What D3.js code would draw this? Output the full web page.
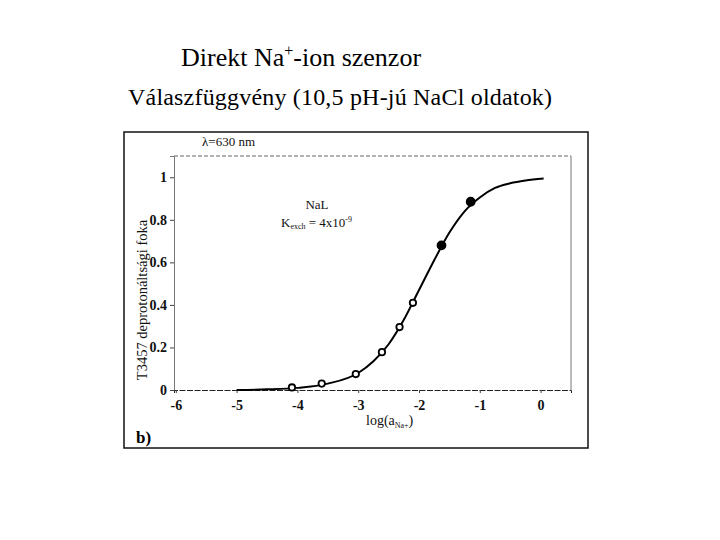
<!DOCTYPE html>
<html>
<head>
<meta charset="utf-8">
<script src="https://cdn.jsdelivr.net/npm/d3@7/dist/d3.min.js"></script>
<style>
    body { margin: 0; background: #fff; }
</style>
</head>
<body>
<svg></svg>
<script>
    // measured points (log a_Na+, degree of deprotonation)
    var pointX = [-4.09, -3.60, -3.04, -2.61, -2.32, -2.10, -1.63, -1.15];
    var pointY = [0.012, 0.030, 0.075, 0.178, 0.296, 0.410, 0.680, 0.885];
    var pointFilled = [false, false, false, false, false, false, true, true];

    // fitted curve
    var curveX = [-5.0, -4.5, -4.0, -3.5, -3.0, -2.75, -2.5, -2.25, -2.0, -1.75, -1.5, -1.25, -1.0, -0.75, -0.5, -0.25, 0.05];
    var curveY = [0.000, 0.003, 0.010, 0.030, 0.080, 0.135, 0.215, 0.330, 0.470, 0.610, 0.740, 0.840, 0.905, 0.950, 0.972, 0.985, 0.994];

    var xTicks = [-6, -5, -4, -3, -2, -1, 0];
    var yTicks = [0, 0.2, 0.4, 0.6, 0.8, 1];

    var serif = "Liberation Serif, Times New Roman, serif";
    var w = 720, h = 540;
    var svg = d3.select("svg").attr("width", w).attr("height", h)
            .attr("font-family", serif);

    // titles
    var t1 = svg.append("text").attr("x", 181).attr("y", 66)
            .attr("font-family", serif)
            .attr("font-size", 26);
    t1.append("tspan").text("Direkt Na");
    t1.append("tspan").text("+").attr("font-size", 16).attr("dy", -10);
    t1.append("tspan").text("-ion szenzor").attr("dy", 10);

    svg.append("text").attr("x", 128).attr("y", 105)
            .attr("font-family", serif)
            .attr("font-size", 24)
            .attr("textLength", 424)
            .text("Válaszfüggvény (10,5 pH-jú NaCl oldatok)");

    // outer frame
    svg.append("rect")
            .attr("x", 124).attr("y", 132)
            .attr("width", 464).attr("height", 316)
            .attr("fill", "none")
            .attr("stroke", "#111")
            .attr("stroke-width", 1.5);

    var x = d3.scaleLinear().domain([-6.03, 0.5]).range([174, 571]);
    var y = d3.scaleLinear().domain([0, 1.1]).range([390, 156]);

    // plot area box
    svg.append("line")
            .attr("x1", x(-6.03)).attr("x2", x(0.5))
            .attr("y1", y(1.1)).attr("y2", y(1.1))
            .attr("stroke", "#666").attr("stroke-dasharray", "4,2");
    svg.append("line")
            .attr("x1", x(0.5)).attr("x2", x(0.5))
            .attr("y1", y(1.1)).attr("y2", y(0))
            .attr("stroke", "#777");

    var yAxis = svg.append("g")
            .attr("transform", "translate(" + x(-6.03) + ",0)")
            .call(d3.axisLeft(y).tickValues(yTicks).tickSize(4).tickPadding(3)
                    .tickFormat(function(d) { return String(d); }));
    yAxis.select(".domain").attr("stroke", "#777");

    var xAxis = svg.append("g")
            .attr("transform", "translate(0," + y(0) + ")")
            .call(d3.axisBottom(x).tickValues(xTicks).tickSize(3).tickPadding(7)
                    .tickFormat(function(d) { return String(d); }));
    xAxis.select(".domain").attr("stroke", "#222").attr("stroke-dasharray", "6,1.5");

    svg.selectAll(".tick text")
            .attr("font-family", serif)
            .attr("font-size", 14)
            .attr("font-weight", "bold")
            .attr("fill", "#111");
    svg.selectAll(".tick line").attr("stroke", "#444");
    svg.selectAll("g").attr("font-family", serif);

    // curve
    var line = d3.line()
            .x(function(d) { return x(d[0]); })
            .y(function(d) { return y(d[1]); })
            .curve(d3.curveMonotoneX);

    svg.append("path")
            .datum(curveX.map(function(v, i) { return [v, curveY[i]]; }))
            .attr("d", line)
            .attr("fill", "none")
            .attr("stroke", "#000")
            .attr("stroke-width", 2);

    // markers
    svg.append("g").selectAll("circle")
            .data(pointX.map(function(v, i) { return {x: v, y: pointY[i], f: pointFilled[i]}; }))
            .enter().append("circle")
            .attr("cx", function(d) { return x(d.x); })
            .attr("cy", function(d) { return y(d.y); })
            .attr("r", function(d) { return d.f ? 4 : 3.2; })
            .attr("fill", function(d) { return d.f ? "#000" : "#fff"; })
            .attr("stroke", "#000")
            .attr("stroke-width", 1.8);

    // annotations
    svg.append("text").attr("x", 202).attr("y", 146)
            .attr("font-size", 13).attr("fill", "#111")
            .text("λ=630 nm");

    svg.append("text").attr("x", 317).attr("y", 209)
            .attr("text-anchor", "middle")
            .attr("font-size", 13).attr("fill", "#111")
            .text("NaL");

    var k = svg.append("text").attr("x", 281).attr("y", 227)
            .attr("font-size", 13).attr("fill", "#111");
    k.append("tspan").text("K");
    k.append("tspan").text("exch").attr("font-size", 8).attr("dy", 2);
    k.append("tspan").text(" = 4x10").attr("dy", -2);
    k.append("tspan").text("-9").attr("font-size", 8).attr("dy", -5);

    // axis titles
    svg.append("text")
            .attr("transform", "translate(147,300) rotate(-90)")
            .attr("text-anchor", "middle")
            .attr("font-size", 14.5).attr("fill", "#111")
            .text("T3457 deprotonáltsági foka");

    var xl = svg.append("text").attr("x", 366).attr("y", 425)
            .attr("font-size", 14).attr("fill", "#111");
    xl.append("tspan").text("log(a");
    xl.append("tspan").text("Na+").attr("font-size", 8).attr("dy", 3);
    xl.append("tspan").text(")").attr("dy", -3);

    svg.append("text").attr("x", 136).attr("y", 443)
            .attr("font-size", 17).attr("font-weight", "bold")
            .text("b)");
</script>
</body>
</html>
